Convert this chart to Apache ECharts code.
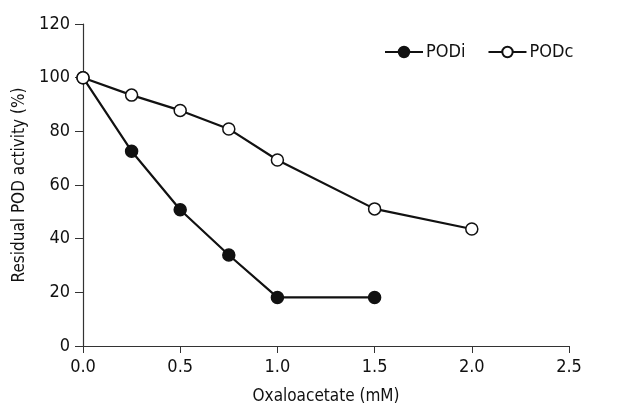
<!DOCTYPE html>
<html><head><meta charset="utf-8">
<script src="https://cdn.jsdelivr.net/npm/echarts@6/dist/echarts.min.js"></script>
<style>html,body{margin:0;padding:0;background:#fff}#c{width:632px;height:405px}</style>
</head><body><div id="c"></div>
<script>
const xPODi = [0, 0.25, 0.5, 0.75, 1.0, 1.5];
const yPODi = [100, 72.6, 50.8, 33.9, 18.1, 18.1];
const xPODc = [0, 0.25, 0.5, 0.75, 1.0, 1.5, 2.0];
const yPODc = [100, 93.5, 87.8, 80.9, 69.3, 51.1, 43.6];
const seriesNames = ['PODi', 'PODc'];
const xTitle = 'Oxaloacetate (mM)';
const yTitle = 'Residual POD activity (%)';

const FONT = '"Liberation Sans Narrow", "DejaVu Sans Condensed", "Liberation Sans", sans-serif';
const C = '#111';
const chart = echarts.init(document.getElementById('c'), null, {renderer: 'canvas'});
const pairs = (xs, ys) => xs.map((x, i) => [x, ys[i]]);
chart.setOption({
  animation: false,
  grid: {left: 83, right: 63, top: 24, bottom: 59, containLabel: false, outerBoundsMode: 'none'},
  legend: {
    top: 38, left: 379, itemGap: 22, itemWidth: 38, itemHeight: 13,
    textStyle: {fontFamily: FONT, fontSize: 18, color: C, padding: [0, 0, 0, -2]},
    data: seriesNames
  },
  xAxis: {
    type: 'value', min: 0, max: 2.5, interval: 0.5,
    name: xTitle, nameLocation: 'middle', nameGap: 42,
    nameTextStyle: {fontFamily: FONT, fontSize: 17, color: C},
    axisLine: {show: true, lineStyle: {color: '#333', width: 1.2}},
    axisTick: {show: true, inside: false, length: 7, lineStyle: {color: '#333'}},
    axisLabel: {fontFamily: FONT, fontSize: 18, color: C, margin: 12, formatter: v => v.toFixed(1)},
    splitLine: {show: false}
  },
  yAxis: {
    type: 'value', min: 0, max: 120, interval: 20,
    name: yTitle, nameLocation: 'middle', nameGap: 53,
    nameTextStyle: {fontFamily: FONT, fontSize: 17, color: C},
    axisLine: {show: true, lineStyle: {color: '#333', width: 1.2}},
    axisTick: {show: true, inside: false, length: 8, lineStyle: {color: '#333'}},
    axisLabel: {fontFamily: FONT, fontSize: 18, color: C, margin: 13},
    splitLine: {show: false}
  },
  series: [
    {
      name: seriesNames[0], type: 'line', data: pairs(xPODi, yPODi),
      symbol: 'circle', symbolSize: 12, z: 3,
      lineStyle: {color: C, width: 2.2},
      itemStyle: {color: C, borderColor: C, borderWidth: 1.5}
    },
    {
      name: seriesNames[1], type: 'line', data: pairs(xPODc, yPODc),
      symbol: 'circle', symbolSize: 12, z: 4,
      lineStyle: {color: C, width: 2.2},
      itemStyle: {color: '#fff', borderColor: C, borderWidth: 1.5}
    }
  ]
});
</script></body></html>
